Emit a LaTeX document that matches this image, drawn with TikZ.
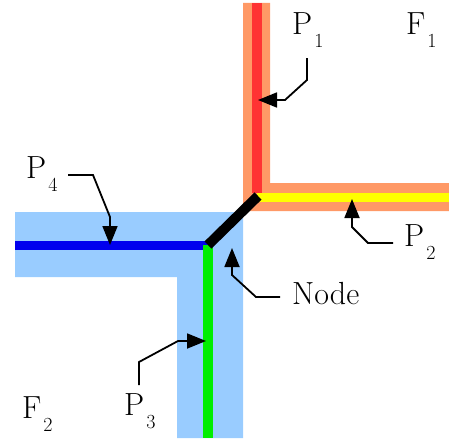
\documentclass[tikz,border=0pt]{standalone}
\usepackage{fontspec}
\usetikzlibrary{arrows.meta}
\definecolor{bandorange}{RGB}{255,153,102}
\definecolor{bandblue}{RGB}{153,204,255}
\definecolor{pathred}{RGB}{255,51,51}
\definecolor{pathyellow}{RGB}{255,255,0}
\definecolor{pathblue}{RGB}{0,0,238}
\definecolor{pathgreen}{RGB}{0,238,0}
\newcommand{\sublbl}[2]{#1\kern2pt\raisebox{-13pt}{\fontsize{20}{20}\selectfont #2}}

\begin{document}
\begin{tikzpicture}[x=1pt, y=-1pt, >={Triangle[length=19pt,width=15pt]},
  lbl/.style={anchor=base west, inner sep=0pt, font=\fontsize{32}{36}\selectfont},
  ptr/.style={->, line width=1.8pt}]
  \useasboundingbox (0,0) rectangle (449,444);
  % the two faces
  \fill[bandorange] (243,3) -- (270,3) -- (270,183) -- (449,183)
        -- (449,211) -- (243,211) -- cycle;
  \fill[bandblue] (15,212) -- (243,212) -- (243,438) -- (177,438)
        -- (177,277) -- (15,277) -- cycle;
  % the four paths and the node
  \draw[pathred, line width=10pt] (257,3) -- (257,193);
  \draw[pathyellow, line width=9pt] (257,197.5) -- (449,197.5);
  \draw[pathblue, line width=9pt] (15,245.5) -- (208,245.5);
  \draw[pathgreen, line width=10pt] (208,245) -- (208,438);
  \draw[line width=10pt] (208,245) -- (258,196);
  % labels
  \node[lbl] (p1) at (292,35) {\sublbl{P}{1}};
  \node[lbl] (f1) at (406,35) {\sublbl{F}{1}};
  \node[lbl] (p2) at (404,246) {\sublbl{P}{2}};
  \node[lbl] (p4) at (26,178) {\sublbl{P}{4}};
  \node[lbl] (nd) at (292,304) {Node};
  \node[lbl] (p3) at (124,415) {\sublbl{P}{3}};
  \node[lbl] (f2) at (22,418) {\sublbl{F}{2}};
  % pointers
  \coordinate (p1tail) at (307,58);  \coordinate (p1tip) at (258,100);
  \coordinate (p2tail) at (393,243); \coordinate (p2tip) at (352,199);
  \coordinate (p4tail) at (68,175);  \coordinate (p4tip) at (110,245);
  \coordinate (ndtail) at (280,297); \coordinate (ndtip) at (232,248);
  \coordinate (p3tail) at (139,385); \coordinate (p3tip) at (206,341);
  \draw[ptr] (p1tail) -- ++(0,22) -- ++(-22,20) -- (p1tip);
  \draw[ptr] (p2tail) -- ++(-25,0) -- ++(-16,-16) -- (p2tip);
  \draw[ptr] (p4tail) -- ++(25,0) -- ++(17,42) -- (p4tip);
  \draw[ptr] (ndtail) -- ++(-24,0) -- ++(-24,-22) -- (ndtip);
  \draw[ptr] (p3tail) -- ++(0,-23) -- ++(39,-21) -- (p3tip);
\end{tikzpicture}
\end{document}
